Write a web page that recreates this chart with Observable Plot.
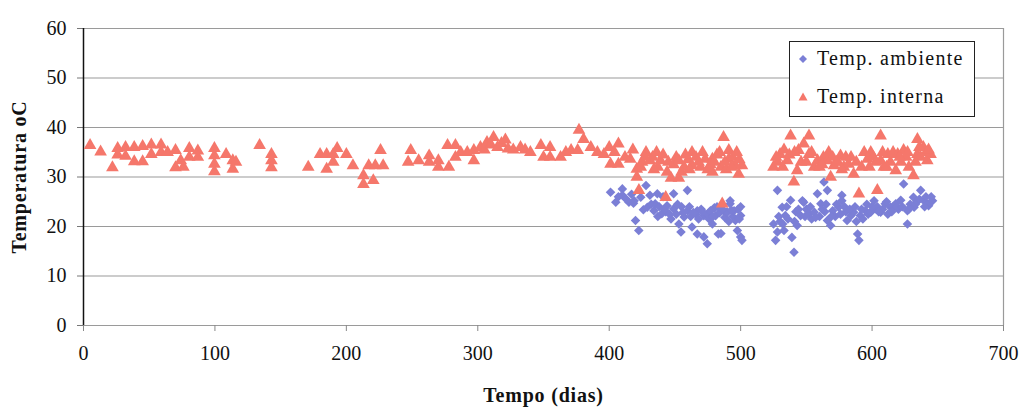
<!DOCTYPE html>
<html>
<head>
<meta charset="utf-8">
<script src="https://cdn.jsdelivr.net/npm/d3@7"></script>
<script src="https://cdn.jsdelivr.net/npm/@observablehq/plot@0.6"></script>
<style>
  html, body { margin: 0; padding: 0; background: #fff; }
  #wrap { position: relative; width: 1023px; height: 408px; font-family: "Liberation Serif", "DejaVu Serif", serif; }
  #wrap svg, #wrap svg text { font-family: "Liberation Serif", "DejaVu Serif", serif !important; }
  #legend { position: absolute; left: 789px; top: 41px; width: 186px; height: 76px; border: 1px solid #222; background: #fff; box-sizing: border-box; }
  .lg { position: absolute; left: 0; display: flex; align-items: center; font-family: "Liberation Serif", serif; font-size: 20px; letter-spacing: 1.3px; color: #111; }
  .lg svg { margin-left: 8px; margin-right: 9px; }
  g[aria-label="y-axis label"] text, g[aria-label="x-axis label"] text { font-weight: bold; font-size: 20px; letter-spacing: 0.8px; }
</style>
</head>
<body>
<div id="wrap"></div>
<script>
// Temp. interna (triangles): day, °C
const diasInterna = [
  5, 13, 22, 26, 26, 32, 32, 38.6, 38.6, 45, 45, 51.6, 51.6, 59, 59, 64, 70, 70, 74, 76,
  80.5, 80.5, 87, 87, 99.6, 99.6, 99.6, 99.6, 108.5, 113.6, 113.6, 116, 134, 143, 143, 143,
  171, 180, 185, 185, 190, 190, 193, 200, 205, 213, 213, 217, 220.5, 222, 226, 228,
  247, 249, 255, 263, 263, 270, 270, 277, 278, 283, 283, 287, 292, 297, 297, 302, 305, 307,
  310, 312, 315, 318, 321, 323, 327, 332.5, 336, 340, 348, 350, 355, 355, 363, 367, 371, 376,
  377, 380.5, 386, 391, 396, 400, 401, 407, 407, 416, 421, 421, 422.6, 425, 428, 431, 433,
  436, 437, 439, 443, 444, 447, 449, 453, 453, 457, 460, 463, 463, 466, 469.5, 473, 475,
  478.5, 478.5, 482, 485, 486, 487, 489, 491, 491, 494, 496, 498.5, 499, 501,
  525, 528, 530, 533, 535.5, 538, 540.5, 543, 544, 546, 548, 552, 552, 556, 558.5, 560, 563,
  566, 568.5, 571, 574, 576, 578.5, 580, 582, 586, 588, 590, 592, 594, 596.5, 599, 601, 604,
  606.5, 606.5, 609, 612, 614, 616, 618, 619.5, 622, 624, 626, 628, 631.5, 634.5, 634.5, 637,
  639, 641, 642, 644.5,
  404, 412, 418, 424, 427, 434, 441, 445, 451, 455, 458, 461, 468, 471, 477, 480, 484, 488, 493, 497,
  527, 532, 537, 541, 550, 554, 562, 567, 570, 573, 577, 584, 598, 603, 608, 611, 621, 627, 633, 636, 643
];
const tempInterna = [
  36.4, 35.1, 31.9, 35.8, 34.5, 36, 34.2, 36, 33.1, 36.2, 33.1, 36.5, 34.6, 36.5, 35, 35, 35.4, 31.9, 33.3, 32,
  35.8, 34, 35.3, 34, 35.8, 34.3, 32.6, 31.1, 34.6, 33.3, 31.6, 33, 36.4, 34.6, 33.3, 31.9,
  32, 34.6, 34.6, 31.6, 34.6, 33, 35.8, 34.6, 32.3, 30.3, 28.5, 32.3, 29.3, 32.3, 35.4, 32.3,
  33, 35.4, 33.3, 34.3, 33, 33.3, 32, 36.4, 32, 36.4, 34, 35, 35, 35.4, 33.3, 36, 35.5, 37,
  36.5, 38, 36, 36.8, 37.5, 35.7, 35.5, 36, 35.5, 35, 36.4, 34, 36, 34, 34, 35, 35.4, 35.4,
  39.5, 37.6, 36, 35, 34.6, 36, 32.6, 36.7, 32.6, 33.6, 31.6, 30, 27.3, 33, 35, 33.3, 34,
  35, 32, 33.3, 25.9, 31, 29.8, 32.5, 33.3, 29.8, 32, 33.5, 35, 32.3, 34, 32, 33.6, 31.5,
  33.6, 31, 34.5, 32, 24.6, 38, 31.5, 35.4, 33.6, 34, 32.3, 30.6, 33.5, 32.3,
  32, 33, 34.6, 35.5, 33.3, 38.3, 29, 31.3, 35.4, 33, 36.7, 38.3, 34.6, 32, 33.3, 32, 34,
  33.3, 30, 32.3, 33, 34.3, 32, 34, 32.6, 30.6, 33, 26.6, 32, 35, 33.6, 35, 34, 27.3,
  38.3, 33.3, 32, 34.6, 33, 35, 31.3, 34.6, 33, 35.4, 34, 32, 30.3, 37.6, 34.6, 34,
  36, 35, 33.3, 34.6,
  35, 34, 35.5, 32, 34, 31.5, 34.5, 33, 34, 31, 34.5, 31.5, 33, 35, 32.5, 33, 35, 33, 32, 35,
  34, 32, 34.5, 35, 33, 35, 32.5, 35, 34, 33, 31.5, 34, 32, 33, 35, 32, 34, 35, 33, 36, 35.5
];

// Temp. ambiente (diamonds): day, °C
const diasAmbiente = [
  401, 405, 410, 410, 415, 418.5, 419, 420, 422.5, 424, 426, 428, 429, 431, 434, 435, 436.6, 437,
  440, 441, 443, 444, 447, 449, 449, 451, 453, 454.6, 455, 457, 459.5, 459.5, 462, 463, 466, 467,
  467, 470, 472, 472, 474.6, 475, 477, 478.5, 480, 481, 483, 484, 485, 487, 488, 489, 490, 492,
  492, 494, 495, 496, 497.5, 498, 500, 500, 500, 501,
  525, 526.6, 528, 528, 530, 531.6, 533, 534, 536, 538, 539, 540.6, 542, 543, 545.6, 547, 548,
  550, 552, 554, 556, 558.4, 560, 561, 563.4, 564, 566, 566, 568.5, 570, 572, 574.5, 577, 577,
  580, 581, 584, 586, 588, 589, 590, 591, 593, 595, 597, 599, 601.5, 602.7, 604, 606.5, 608,
  610, 612, 614, 616, 618, 620, 621.8, 624, 626.9, 626.9, 629, 631.5, 632, 634, 637, 639.5,
  641, 643, 644, 646,
  407, 413, 417, 432, 438, 442, 446, 452, 456, 461, 464, 468, 471, 476, 479, 482, 486, 491, 493, 499,
  529, 532, 535, 541, 544, 549, 553, 557, 562, 565, 569, 573, 576, 579, 583, 587, 592, 596, 600, 605,
  611, 615, 619, 623, 628, 633, 636, 640, 645
];
const tempAmbiente = [
  26.9, 24.9, 27.6, 26.3, 24.9, 24.7, 25.2, 21.2, 19.2, 25.9, 23.4, 28.3, 23.9, 26.3, 23.2, 24.6, 26.6, 22,
  22.6, 26, 23, 24.2, 21.5, 26.6, 23.6, 22.5, 20.5, 18.9, 24, 21.9, 27.3, 23.2, 22, 19.9, 22.5, 18.5,
  23.2, 23.5, 22.2, 17.9, 16.5, 22.5, 23.2, 20.5, 23.8, 22.2, 18.5, 22.8, 18.6, 23.2, 21.8, 22.9, 22.9, 24.6,
  25.2, 22, 23.2, 21.2, 19.2, 23.5, 22.2, 17.9, 24, 17.2,
  20.5, 17.2, 27.3, 18.9, 21, 23.9, 19.2, 22.2, 21.5, 25.3, 17.8, 14.8, 23, 20.2, 22.2, 25.2, 24.9,
  23.5, 22.6, 21.5, 22.9, 26.6, 22, 24.6, 29, 23, 21.2, 27.3, 20.2, 23.2, 22, 23.9, 26.3, 25.2,
  23, 21.2, 22.2, 22.9, 21, 18.5, 17.2, 22.2, 21.5, 23.2, 22.5, 22.9, 25.2, 23.6, 24, 22.9, 23.5,
  24.6, 22.5, 23.9, 24, 24.6, 23.5, 25.3, 28.6, 20.5, 23.2, 24.5, 25.9, 23.9, 25, 27.3, 25.2,
  26, 24.2, 24.8, 25.2,
  26, 25.5, 26.5, 24.5, 24, 23.5, 22.5, 24.5, 22.8, 24, 22.8, 21.5, 23, 21.5, 22, 24, 23.5, 21, 23.3, 21.5,
  22, 20.5, 24, 21, 23.5, 22, 24, 21.8, 23.5, 24.5, 22, 24.5, 22.5, 24, 23.5, 24, 23.5, 24.5, 24, 23,
  25, 23, 24, 24, 23.5, 24.5, 25.5, 24, 26
];

const xTicks = [0, 100, 200, 300, 400, 500, 600, 700];
const yTicks = [0, 10, 20, 30, 40, 50, 60];
const serieAmbiente = "Temp. ambiente";
const serieInterna = "Temp. interna";
const corAmbiente = "#7b7fd6";
const corInterna = "#f5776b";

const interna = diasInterna.map((d, i) => ({dia: d, temp: tempInterna[i]}));
const ambiente = diasAmbiente.map((d, i) => ({dia: d, temp: tempAmbiente[i]}));

const chart = Plot.plot({
  width: 1023,
  height: 408,
  marginLeft: 83,
  marginRight: 20,
  marginTop: 28,
  marginBottom: 83,
  style: {fontFamily: "Liberation Serif, serif", fontSize: "20px", background: "#fff", color: "#111"},
  x: {domain: [0, 700]},
  y: {domain: [0, 60]},
  marks: [
    Plot.ruleY(yTicks, {stroke: "#9a9a9a", strokeWidth: 1.2}),
    Plot.ruleX([700], {stroke: "#9a9a9a", strokeWidth: 1.2}),
    Plot.axisY({ticks: yTicks, tickSize: 6, tickPadding: 11, stroke: "#777", label: "Temperatura oC", labelAnchor: "center", labelOffset: 72, labelArrow: "none"}),
    Plot.axisX({ticks: xTicks, tickSize: 6, tickPadding: 14, stroke: "#888", label: "Tempo (dias)", labelAnchor: "center", labelOffset: 76, labelArrow: "none"}),
    Plot.ruleX([0], {stroke: "#111", strokeWidth: 1.5}),
    Plot.dot(ambiente, {x: "dia", y: "temp", symbol: "diamond2", r: 4.3, fill: corAmbiente, stroke: "none"}),
    Plot.dot(interna, {x: "dia", y: "temp", symbol: "triangle", r: 4.7, fill: corInterna, stroke: "none"})
  ]
});

const wrap = document.getElementById("wrap");
wrap.appendChild(chart);

const legend = document.createElement("div");
legend.id = "legend";
legend.innerHTML = `
  <div class="lg" style="top:5px"><svg width="10" height="10" viewBox="-5 -5 10 10"><path d="M0,-4L4,0L0,4L-4,0Z" fill="${corAmbiente}"/></svg><span>${serieAmbiente}</span></div>
  <div class="lg" style="top:43px"><svg width="10" height="10" viewBox="-5 -5 10 10"><path d="M0,-4.5L4.5,3.5L-4.5,3.5Z" fill="${corInterna}"/></svg><span>${serieInterna}</span></div>`;
wrap.appendChild(legend);
</script>
</body>
</html>
